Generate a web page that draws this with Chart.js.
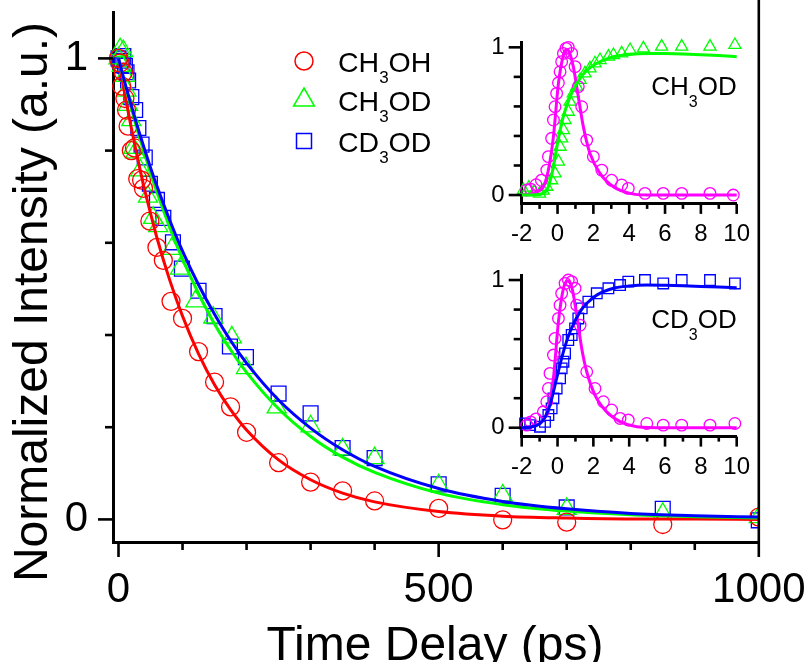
<!DOCTYPE html>
<html>
<head>
<meta charset="utf-8">
<script src="https://cdn.jsdelivr.net/npm/chart.js@4.4.1/dist/chart.umd.min.js"></script>
<style>
  body { margin: 0; background: #fff; }
  #wrap { position: relative; width: 811px; height: 662px; overflow: hidden; background: #fff; }
  canvas { position: absolute; }
</style>
</head>
<body>
<div id="wrap">
  <canvas id="main" width="811" height="662" style="left:0;top:0"></canvas>
  <canvas id="inset1" width="305" height="225" style="left:455px;top:25px"></canvas>
  <canvas id="inset2" width="305" height="225" style="left:455px;top:257px"></canvas>
</div>
<script>
const FONT = "Arial, 'Liberation Sans', Helvetica, sans-serif";

// ---- main panel: decay after excitation (time in ps) ----
const ch3ohT = [0, 2.5, 5, 7.5, 10, 12.5, 15, 20, 25, 30, 36, 39, 49, 60, 70, 82, 100, 125, 150, 175, 200, 250, 300, 350, 400, 500, 600, 700, 850, 1000];
const ch3ohI = [1.0, 0.99, 0.94, 0.97, 0.913, 0.888, 0.853, 0.80, 0.806, 0.739, 0.736, 0.718, 0.647, 0.59, 0.562, 0.473, 0.436, 0.364, 0.298, 0.244, 0.189, 0.123, 0.081, 0.062, 0.040, 0.024, -0.001, -0.006, -0.011, 0.005];

const ch3odT = [0, 2.5, 5, 7.5, 10, 12.5, 15, 20, 23, 26, 34, 46, 54, 62, 83, 96, 120, 148, 177, 199, 247, 300, 350, 400, 500, 600, 700, 850, 1000];
const ch3odI = [1.0, 1.02, 0.984, 1.016, 0.962, 0.93, 0.899, 0.866, 0.806, 0.796, 0.757, 0.70, 0.654, 0.636, 0.587, 0.544, 0.473, 0.438, 0.395, 0.328, 0.243, 0.202, 0.152, 0.133, 0.074, 0.052, 0.023, 0.012, 0.005];

const cd3odT = [0, 2.5, 5, 7.5, 10, 12.5, 15, 20, 26, 31, 36, 41, 49, 60, 70, 85, 99, 125, 150, 174, 199, 250, 300, 350, 400, 500, 600, 700, 850, 1000];
const cd3odI = [1.0, 0.995, 0.985, 1.005, 0.984, 0.97, 0.952, 0.916, 0.888, 0.849, 0.813, 0.785, 0.728, 0.693, 0.654, 0.601, 0.544, 0.496, 0.441, 0.375, 0.352, 0.273, 0.230, 0.155, 0.133, 0.076, 0.051, 0.026, 0.023, -0.002];

// fitted curves
const fitT     = [0, 10, 20, 30, 40, 50, 60, 80, 100, 125, 150, 175, 200, 250, 300, 350, 400, 500, 600, 700, 800, 900, 1000];
const fitCh3oh = [1.0, 0.921, 0.849, 0.782, 0.720, 0.664, 0.611, 0.519, 0.441, 0.359, 0.292, 0.238, 0.194, 0.129, 0.086, 0.057, 0.038, 0.017, 0.007, 0.003, 0.001, 0.001, 0.0];
const fitCh3od = [1.0, 0.944, 0.892, 0.842, 0.796, 0.751, 0.710, 0.633, 0.565, 0.490, 0.424, 0.368, 0.319, 0.240, 0.180, 0.135, 0.102, 0.057, 0.032, 0.018, 0.010, 0.006, 0.003];
const fitCd3od = [1.0, 0.947, 0.898, 0.850, 0.806, 0.763, 0.723, 0.649, 0.582, 0.509, 0.445, 0.388, 0.339, 0.259, 0.198, 0.151, 0.115, 0.067, 0.039, 0.023, 0.013, 0.008, 0.005];

const mainXTicks = [0, 100, 200, 300, 400, 500, 600, 700, 800, 900, 1000];
const mainXLabels = [0, 500, 1000];
const mainYTicks = [0, 0.2, 0.4, 0.6, 0.8, 1];
const mainYLabels = [0, 1];

// ---- inset 1: CH3OD ----
const in1PumpT = [-1.72, -1.5, -1.2, -0.9, -0.6, -0.51, -0.33, -0.23, -0.14, -0.05, 0.05, 0.14, 0.23, 0.33, 0.47, 0.6, 0.79, 0.98, 1.16, 1.35, 1.63, 2.0, 2.47, 3.02, 3.58, 3.95, 4.88, 5.9, 6.93, 8.51, 9.81];
const in1PumpI = [0.034, 0.04, 0.07, 0.10, 0.169, 0.26, 0.384, 0.508, 0.598, 0.688, 0.76, 0.835, 0.903, 0.959, 0.993, 1.0, 0.959, 0.869, 0.734, 0.598, 0.372, 0.26, 0.169, 0.10, 0.068, 0.045, 0.011, 0.011, 0.011, 0.011, 0.0];
const in1RiseT = [-1.9, -1.6, -1.3, -1.0, -0.8, -0.6, -0.33, -0.14, 0.05, 0.14, 0.23, 0.33, 0.42, 0.6, 0.7, 0.88, 1.07, 1.26, 1.53, 1.81, 2.09, 2.37, 2.84, 3.12, 3.58, 4.05, 4.79, 5.81, 6.93, 8.51, 9.9];
const in1RiseI = [0.034, 0.05, 0.02, 0.01, 0.03, 0.056, 0.10, 0.147, 0.226, 0.327, 0.384, 0.44, 0.508, 0.564, 0.632, 0.688, 0.734, 0.779, 0.824, 0.858, 0.892, 0.914, 0.937, 0.948, 0.959, 0.982, 0.993, 1.005, 1.005, 1.005, 1.016];
const in1PumpFitT = [-2, -1.35, -1, -0.79, -0.51, -0.23, 0.05, 0.33, 0.5, 0.65, 0.88, 1.16, 1.44, 1.81, 2.37, 3.12, 4.05, 5, 7, 10];
const in1PumpFitI = [0.0, 0.011, 0.03, 0.056, 0.169, 0.395, 0.756, 0.948, 0.985, 0.97, 0.869, 0.666, 0.463, 0.282, 0.147, 0.056, 0.011, 0.0, 0.0, 0.0];
const in1RiseFitT = [-2, -1.5, -1, -0.6, -0.3, 0, 0.3, 0.7, 1.2, 1.6, 2.2, 3, 4, 5, 6, 7, 8, 9, 10];
const in1RiseFitI = [0.0, 0.0, 0.005, 0.034, 0.15, 0.35, 0.52, 0.666, 0.78, 0.84, 0.892, 0.932, 0.952, 0.959, 0.958, 0.955, 0.95, 0.944, 0.937];

// ---- inset 2: CD3OD ----
const in2PumpT = [-1.72, -1.5, -1.2, -0.79, -0.6, -0.51, -0.42, -0.23, -0.14, 0.05, 0.14, 0.23, 0.42, 0.6, 0.79, 0.98, 1.07, 1.26, 1.63, 2.09, 2.56, 3.02, 3.49, 3.95, 4.98, 5.9, 6.93, 8.51, 9.9];
const in2PumpI = [0.018, 0.04, 0.06, 0.108, 0.176, 0.266, 0.368, 0.492, 0.605, 0.74, 0.83, 0.91, 0.977, 1.0, 0.989, 0.944, 0.83, 0.695, 0.379, 0.266, 0.176, 0.12, 0.063, 0.052, 0.029, 0.018, 0.018, 0.018, 0.029];
const in2RiseT = [-1.81, -1.53, -0.98, -0.7, -0.51, -0.33, -0.23, -0.05, 0.14, 0.23, 0.33, 0.42, 0.6, 0.79, 0.98, 1.16, 1.35, 1.72, 2.19, 2.84, 3.49, 3.95, 4.88, 5.9, 6.93, 8.51, 9.9];
const in2RiseI = [0.029, 0.018, 0.007, 0.04, 0.086, 0.131, 0.199, 0.266, 0.334, 0.402, 0.447, 0.503, 0.594, 0.628, 0.673, 0.74, 0.808, 0.853, 0.91, 0.944, 0.966, 0.989, 1.0, 0.977, 1.0, 1.0, 0.977];
const in2PumpFitT = [-2, -1.53, -1.1, -0.79, -0.51, -0.23, 0.05, 0.33, 0.55, 0.79, 1.07, 1.35, 1.63, 2.09, 2.74, 3.49, 4.42, 6, 8, 10];
const in2PumpFitI = [0.0, 0.007, 0.02, 0.052, 0.131, 0.334, 0.718, 0.944, 0.993, 0.955, 0.763, 0.537, 0.379, 0.221, 0.108, 0.041, 0.007, 0.0, 0.0, 0.0];
const in2RiseFitT = [-2, -1.5, -0.98, -0.7, -0.42, -0.05, 0.33, 0.7, 1.26, 1.7, 2.19, 3.12, 4, 4.98, 6, 7, 8, 9, 10];
const in2RiseFitI = [0.0, 0.005, 0.029, 0.07, 0.153, 0.334, 0.515, 0.65, 0.786, 0.85, 0.898, 0.944, 0.96, 0.966, 0.964, 0.961, 0.957, 0.952, 0.948];

const insetXTicks = [-2, -1, 0, 1, 2, 3, 4, 5, 6, 7, 8, 9, 10];
const insetXLabels = [-2, 0, 2, 4, 6, 8, 10];
const insetYTicks = [0, 0.2, 0.4, 0.6, 0.8, 1];
const insetYLabels = [0, 1];

const RED = '#ff0000', GREEN = '#00ff00', BLUE = '#0000ff', MAGENTA = '#ff00ff';

const pts = (xs, ys) => xs.map((x, i) => ({ x: x, y: ys[i] }));

function markers(xs, ys, color, style, r) {
    return {
        data: pts(xs, ys),
        showLine: false,
        pointStyle: style,
        pointRadius: r,
        pointBorderWidth: 1.3,
        pointBorderColor: color,
        pointBackgroundColor: 'rgba(0,0,0,0)',
        order: 10
    };
}

function fitLine(xs, ys, color, order) {
    return {
        data: pts(xs, ys),
        showLine: true,
        borderColor: color,
        borderWidth: 3,
        pointRadius: 0,
        cubicInterpolationMode: 'monotone',
        fill: false,
        order: order
    };
}

// text with a lowered small "3" etc: parts = [[text, isSub], ...]
function drawFormula(ctx, parts, x, y, size, subSize, drop, align) {
    const widths = parts.map(([t, sub]) => {
        ctx.font = (sub ? subSize : size) + 'px ' + FONT;
        return ctx.measureText(t).width;
    });
    let cx = align === 'right' ? x - widths.reduce((a, b) => a + b, 0) : x;
    ctx.textAlign = 'left';
    ctx.textBaseline = 'alphabetic';
    ctx.fillStyle = '#000';
    parts.forEach(([t, sub], i) => {
        ctx.font = (sub ? subSize : size) + 'px ' + FONT;
        ctx.fillText(t, cx, sub ? y + drop : y);
        cx += widths[i];
    });
}

// tick marks of two lengths, pointing out of the frame
const tickMarks = {
    id: 'tickMarks',
    afterDraw(chart, args, o) {
        const ctx = chart.ctx, a = chart.chartArea;
        const xs = chart.scales.x, ys = chart.scales.y;
        ctx.save();
        ctx.strokeStyle = '#000';
        ctx.lineWidth = o.width;
        o.xTicks.forEach(v => {
            const p = xs.getPixelForValue(v);
            const len = o.xMajor.includes(v) ? o.xLen[0] : o.xLen[1];
            ctx.beginPath();
            ctx.moveTo(p, a.bottom);
            ctx.lineTo(p, a.bottom + len);
            ctx.stroke();
        });
        o.yTicks.forEach(v => {
            const p = ys.getPixelForValue(v);
            const len = o.yMajor.includes(v) ? o.yLen[0] : o.yLen[1];
            ctx.beginPath();
            ctx.moveTo(a.left, p);
            ctx.lineTo(a.left - len, p);
            ctx.stroke();
        });
        if (o.rightBorder) {
            ctx.lineWidth = o.rightBorder;
            ctx.beginPath();
            ctx.moveTo(a.right, 0);
            ctx.lineTo(a.right, a.bottom);
            ctx.stroke();
        }
        ctx.restore();
    }
};

// axis titles and legend of the main panel
const mainText = {
    id: 'mainText',
    afterDraw(chart) {
        const ctx = chart.ctx;
        ctx.save();
        ctx.fillStyle = '#000';
        ctx.font = '48px ' + FONT;
        ctx.textAlign = 'center';
        ctx.textBaseline = 'alphabetic';
        ctx.fillText('Time Delay (ps)', 435, 660);
        ctx.translate(47, 302);
        ctx.rotate(-Math.PI / 2);
        ctx.fillText('Normalized Intensity (a.u.)', 0, 0);
        ctx.restore();

        const items = [
            { color: RED, style: 'circle', y: 61, parts: [['CH', 0], ['3', 1], ['OH', 0]] },
            { color: GREEN, style: 'triangle', y: 100, parts: [['CH', 0], ['3', 1], ['OD', 0]] },
            { color: BLUE, style: 'square', y: 141, parts: [['CD', 0], ['3', 1], ['OD', 0]] }
        ];
        const mx = 304;
        ctx.save();
        items.forEach(it => {
            ctx.strokeStyle = it.color;
            ctx.lineWidth = 1.5;
            ctx.beginPath();
            if (it.style === 'circle') {
                ctx.arc(mx, it.y, 9, 0, Math.PI * 2);
            } else if (it.style === 'triangle') {
                ctx.moveTo(mx, it.y - 12);
                ctx.lineTo(mx + 10.4, it.y + 6);
                ctx.lineTo(mx - 10.4, it.y + 6);
                ctx.closePath();
            } else {
                ctx.rect(mx - 7.5, it.y - 7.5, 15, 15);
            }
            ctx.stroke();
            drawFormula(ctx, it.parts, 338, it.y + 11, 28.5, 17, 11, 'left');
        });
        ctx.restore();
    }
};

// sample name inside an inset
const insetLabel = {
    id: 'insetLabel',
    afterDraw(chart, args, o) {
        const ctx = chart.ctx;
        const y = chart.scales.y.getPixelForValue(o.y);
        ctx.save();
        drawFormula(ctx, o.parts, chart.chartArea.right, y, 26, 16, 11.5, 'right');
        ctx.restore();
    }
};

new Chart(document.getElementById('main'), {
    type: 'scatter',
    data: {
        datasets: [
            markers(ch3ohT, ch3ohI, RED, 'circle', 9),
            markers(ch3odT, ch3odI, GREEN, 'triangle', 11),
            markers(cd3odT, cd3odI, BLUE, 'rect', 10.5),
            fitLine(fitT, fitCh3oh, RED, 3),
            fitLine(fitT, fitCh3od, GREEN, 2),
            fitLine(fitT, fitCd3od, BLUE, 1)
        ]
    },
    options: {
        responsive: false,
        animation: false,
        clip: { left: 12, top: 12, right: 0, bottom: 12 },
        layout: { padding: { top: 2, right: 52.2, left: 0, bottom: 0 } },
        plugins: {
            legend: { display: false },
            tooltip: { enabled: false },
            tickMarks: {
                width: 2.6,
                xTicks: mainXTicks, xMajor: mainXLabels, xLen: [15, 8],
                yTicks: mainYTicks, yMajor: mainYLabels, yLen: [15, 8],
                rightBorder: 2.6
            }
        },
        scales: {
            x: {
                type: 'linear',
                min: -8.6,
                max: 1000,
                afterBuildTicks: s => { s.ticks = mainXTicks.map(v => ({ value: v })); },
                afterFit: s => { s.height = 120; s.paddingLeft = 0; s.paddingRight = 0; },
                grid: { display: false, drawTicks: false },
                border: { display: true, color: '#000', width: 3 },
                ticks: {
                    autoSkip: false, maxRotation: 0, padding: 23, color: '#000',
                    font: { family: FONT, size: 42 },
                    callback: v => mainXLabels.includes(v) ? String(v) : ''
                }
            },
            y: {
                min: -0.049,
                max: 1.1,
                afterBuildTicks: s => { s.ticks = mainYTicks.map(v => ({ value: v })); },
                afterFit: s => { s.width = 113; s.paddingTop = 0; s.paddingBottom = 0; },
                grid: { display: false, drawTicks: false },
                border: { display: true, color: '#000', width: 3 },
                ticks: {
                    autoSkip: false, padding: 25, color: '#000',
                    font: { family: FONT, size: 42 },
                    callback: v => mainYLabels.includes(v) ? String(v) : ''
                }
            }
        }
    },
    plugins: [tickMarks, mainText]
});

function inset(id, pumpT, pumpI, riseT, riseI, pumpFitT, pumpFitI, riseFitT, riseFitI, riseColor, riseStyle, riseR, parts, top, xHeight) {
    return new Chart(document.getElementById(id), {
        type: 'scatter',
        data: {
            datasets: [
                markers(pumpT, pumpI, MAGENTA, 'circle', 5.8),
                markers(riseT, riseI, riseColor, riseStyle, riseR),
                fitLine(pumpFitT, pumpFitI, MAGENTA, 2),
                fitLine(riseFitT, riseFitI, riseColor, 1)
            ]
        },
        options: {
            responsive: false,
            animation: false,
            clip: false,
            layout: { padding: { top: top, right: 23.3, left: 0, bottom: 0 } },
            plugins: {
                legend: { display: false },
                tooltip: { enabled: false },
                tickMarks: {
                    width: 2.6,
                    xTicks: insetXTicks, xMajor: insetXLabels, xLen: [10, 5],
                    yTicks: insetYTicks, yMajor: insetYLabels, yLen: [13, 8],
                    rightBorder: 0
                },
                insetLabel: { y: 0.675, parts: parts }
            },
            scales: {
                x: {
                    type: 'linear',
                    min: -2,
                    max: 10,
                    afterBuildTicks: s => { s.ticks = insetXTicks.map(v => ({ value: v })); },
                    afterFit: s => { s.height = xHeight; s.paddingLeft = 0; s.paddingRight = 0; },
                    grid: { display: false, drawTicks: false },
                    border: { display: true, color: '#000', width: 3 },
                    ticks: {
                        autoSkip: false, maxRotation: 0, padding: 16.5, color: '#000',
                        font: { family: FONT, size: 24 },
                        callback: v => insetXLabels.includes(v) ? String(v) : ''
                    }
                },
                y: {
                    min: -0.06,
                    max: 1.03,
                    afterBuildTicks: s => { s.ticks = insetYTicks.map(v => ({ value: v })); },
                    afterFit: s => { s.width = 66.7; s.paddingTop = 0; s.paddingBottom = 0; },
                    grid: { display: false, drawTicks: false },
                    border: { display: true, color: '#000', width: 3 },
                    ticks: {
                        autoSkip: false, padding: 17, color: '#000',
                        font: { family: FONT, size: 24 },
                        callback: v => insetYLabels.includes(v) ? String(v) : ''
                    }
                }
            }
        },
        plugins: [tickMarks, insetLabel]
    });
}

inset('inset1', in1PumpT, in1PumpI, in1RiseT, in1RiseI, in1PumpFitT, in1PumpFitI, in1RiseFitT, in1RiseFitI,
      GREEN, 'triangle', 7, [['CH', 0], ['3', 1], ['OD', 0]], 17.9, 46.1);
inset('inset2', in2PumpT, in2PumpI, in2RiseT, in2RiseI, in2PumpFitT, in2PumpFitI, in2RiseFitT, in2RiseFitI,
      BLUE, 'rect', 7.5, [['CD', 0], ['3', 1], ['OD', 0]], 18.6, 45.4);
</script>
</body>
</html>
